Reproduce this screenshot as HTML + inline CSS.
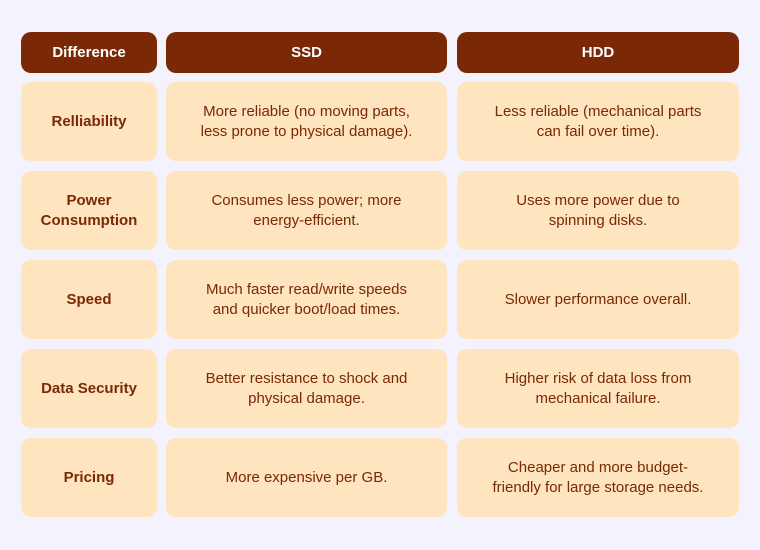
<!DOCTYPE html>
<html><head><meta charset="utf-8"><style>
body{margin:0;width:760px;height:550px;background:#f4f2fd;font-family:"Liberation Sans",sans-serif;position:relative;overflow:hidden}
.c{position:absolute;border-radius:10px;display:flex;align-items:center;justify-content:center;text-align:center;box-sizing:border-box;padding:0 12px;font-size:15px;line-height:20px}
.h{background:#7a2805;color:#fff;font-weight:bold;font-size:15px}
.b{background:#fee4bf;color:#7a2805}
.k{font-weight:bold}
</style></head><body>
<div class="c h" style="left:21px;top:32px;width:136px;height:41px">Difference</div>
<div class="c h" style="left:166px;top:32px;width:281px;height:41px">SSD</div>
<div class="c h" style="left:457px;top:32px;width:282px;height:41px">HDD</div>

<div class="c b k" style="left:21px;top:82px;width:136px;height:79px">Relliability</div>
<div class="c b" style="left:166px;top:82px;width:281px;height:79px">More reliable (no moving parts,<br>less prone to physical damage).</div>
<div class="c b" style="left:457px;top:82px;width:282px;height:79px">Less reliable (mechanical parts<br>can fail over time).</div>

<div class="c b k" style="left:21px;top:171px;width:136px;height:79px">Power<br>Consumption</div>
<div class="c b" style="left:166px;top:171px;width:281px;height:79px">Consumes less power; more<br>energy-efficient.</div>
<div class="c b" style="left:457px;top:171px;width:282px;height:79px">Uses more power due to<br>spinning disks.</div>

<div class="c b k" style="left:21px;top:260px;width:136px;height:79px">Speed</div>
<div class="c b" style="left:166px;top:260px;width:281px;height:79px">Much faster read/write speeds<br>and quicker boot/load times.</div>
<div class="c b" style="left:457px;top:260px;width:282px;height:79px">Slower performance overall.</div>

<div class="c b k" style="left:21px;top:349px;width:136px;height:79px">Data Security</div>
<div class="c b" style="left:166px;top:349px;width:281px;height:79px">Better resistance to shock and<br>physical damage.</div>
<div class="c b" style="left:457px;top:349px;width:282px;height:79px">Higher risk of data loss from<br>mechanical failure.</div>

<div class="c b k" style="left:21px;top:438px;width:136px;height:79px">Pricing</div>
<div class="c b" style="left:166px;top:438px;width:281px;height:79px">More expensive per GB.</div>
<div class="c b" style="left:457px;top:438px;width:282px;height:79px">Cheaper and more budget-<br>friendly for large storage needs.</div>
</body></html>
